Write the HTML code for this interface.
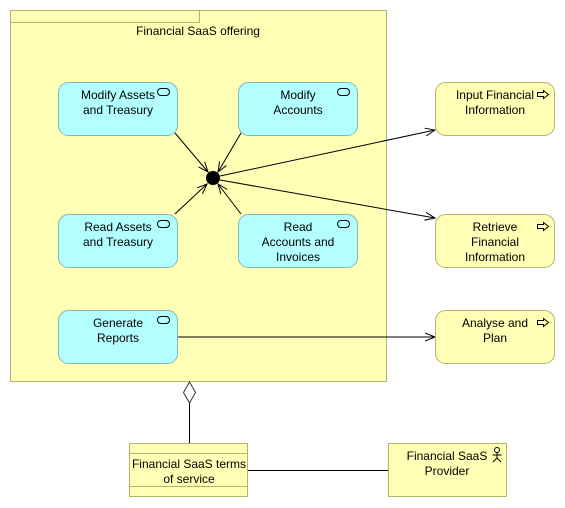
<!DOCTYPE html>
<html><head><meta charset="utf-8"><style>
html,body{margin:0;padding:0;background:#fff;}
svg{display:block;}
text{font-family:"Liberation Sans",sans-serif;font-size:12px;fill:#000;}
</style></head><body>
<svg width="565" height="508" viewBox="0 0 565 508" xmlns="http://www.w3.org/2000/svg">
<defs>
<marker id="oa" markerWidth="12" markerHeight="10" refX="10" refY="5" orient="auto" markerUnits="userSpaceOnUse">
<path d="M0,1 L10,5 L0,9" fill="none" stroke="#000" stroke-width="1"/>
</marker>
<g id="svc"><rect x="0.5" y="0.5" width="12" height="7" rx="3.5" fill="none" stroke="#000"/></g>
<g id="itf"><path d="M0.5,2.5 H6.5 V0.5 L11.5,4.5 L6.5,8.5 V6.5 H0.5 Z" fill="none" stroke="#000"/></g>
</defs>
<!-- group -->
<rect x="10.5" y="10.5" width="376" height="371" fill="#ffffb5" stroke="#b8b36a"/>
<rect x="10.5" y="10.5" width="189" height="12" fill="#ffffb5" stroke="#b8b36a"/>
<text x="198" y="35" text-anchor="middle">Financial SaaS offering</text>

<!-- connectors -->
<g stroke="#000" stroke-width="1" fill="none">
<line x1="175" y1="133" x2="208" y2="172" marker-end="url(#oa)"/>
<line x1="241" y1="133" x2="218" y2="172" marker-end="url(#oa)"/>
<line x1="175" y1="214" x2="207" y2="184" marker-end="url(#oa)"/>
<line x1="241" y1="214" x2="218" y2="184" marker-end="url(#oa)"/>
<line x1="220" y1="176" x2="435" y2="130" marker-end="url(#oa)"/>
<line x1="220" y1="180" x2="435" y2="218" marker-end="url(#oa)"/>
<line x1="178" y1="337" x2="435" y2="337" marker-end="url(#oa)"/>
<line x1="189.5" y1="403" x2="189.5" y2="443"/>
<line x1="248" y1="470.5" x2="388" y2="470.5"/>
</g>
<path d="M189.5,382 L195.5,392.5 L189.5,403 L183.5,392.5 Z" fill="#fff" stroke="#333"/>
<circle cx="213" cy="178" r="7" fill="#000"/>

<!-- cyan services -->
<g fill="#b3ffff" stroke="#7fb8c0">
<rect x="58.5" y="82.5" width="119" height="53" rx="10"/>
<rect x="238.5" y="82.5" width="119" height="53" rx="10"/>
<rect x="58.5" y="214.5" width="119" height="53" rx="10"/>
<rect x="238.5" y="214.5" width="119" height="53" rx="10"/>
<rect x="58.5" y="310.5" width="119" height="53" rx="10"/>
</g>
<use href="#svc" x="157" y="88"/>
<use href="#svc" x="337" y="88"/>
<use href="#svc" x="157" y="220"/>
<use href="#svc" x="337" y="220"/>
<use href="#svc" x="157" y="316"/>
<g text-anchor="middle">
<text x="118" y="99">Modify Assets</text><text x="118" y="114">and Treasury</text>
<text x="298" y="99">Modify</text><text x="298" y="114">Accounts</text>
<text x="118" y="231">Read Assets</text><text x="118" y="246">and Treasury</text>
<text x="298" y="231">Read</text><text x="298" y="246">Accounts and</text><text x="298" y="261">Invoices</text>
<text x="118" y="327">Generate</text><text x="118" y="342">Reports</text>
</g>

<!-- yellow interfaces -->
<g fill="#ffffb5" stroke="#b8b36a">
<rect x="435.5" y="82.5" width="119" height="53" rx="10"/>
<rect x="435.5" y="214.5" width="119" height="53" rx="10"/>
<rect x="435.5" y="310.5" width="119" height="53" rx="10"/>
</g>
<use href="#itf" x="537" y="90"/>
<use href="#itf" x="537" y="222"/>
<use href="#itf" x="537" y="318"/>
<g text-anchor="middle">
<text x="495" y="99">Input Financial</text><text x="495" y="114">Information</text>
<text x="495" y="231">Retrieve</text><text x="495" y="246">Financial</text><text x="495" y="261">Information</text>
<text x="495" y="327">Analyse and</text><text x="495" y="342">Plan</text>
</g>

<!-- contract -->
<rect x="129.5" y="443.5" width="118" height="53" fill="#ffffb5" stroke="#b8b36a"/>
<line x1="129.5" y1="453.5" x2="247.5" y2="453.5" stroke="#b8b36a"/>
<line x1="129.5" y1="486.5" x2="247.5" y2="486.5" stroke="#b8b36a"/>
<text x="189" y="468" text-anchor="middle">Financial SaaS terms</text>
<text x="189" y="483" text-anchor="middle">of service</text>

<!-- actor -->
<rect x="388.5" y="443.5" width="118" height="53" fill="#ffffb5" stroke="#b8b36a"/>
<g stroke="#000" fill="none">
<circle cx="497" cy="450" r="2.5"/>
<line x1="497" y1="452.5" x2="497" y2="458"/>
<line x1="492.5" y1="455" x2="501.5" y2="455"/>
<line x1="497" y1="458" x2="493" y2="462"/>
<line x1="497" y1="458" x2="501" y2="462"/>
</g>
<text x="447" y="460" text-anchor="middle">Financial SaaS</text>
<text x="447" y="475" text-anchor="middle">Provider</text>
</svg>
</body></html>
